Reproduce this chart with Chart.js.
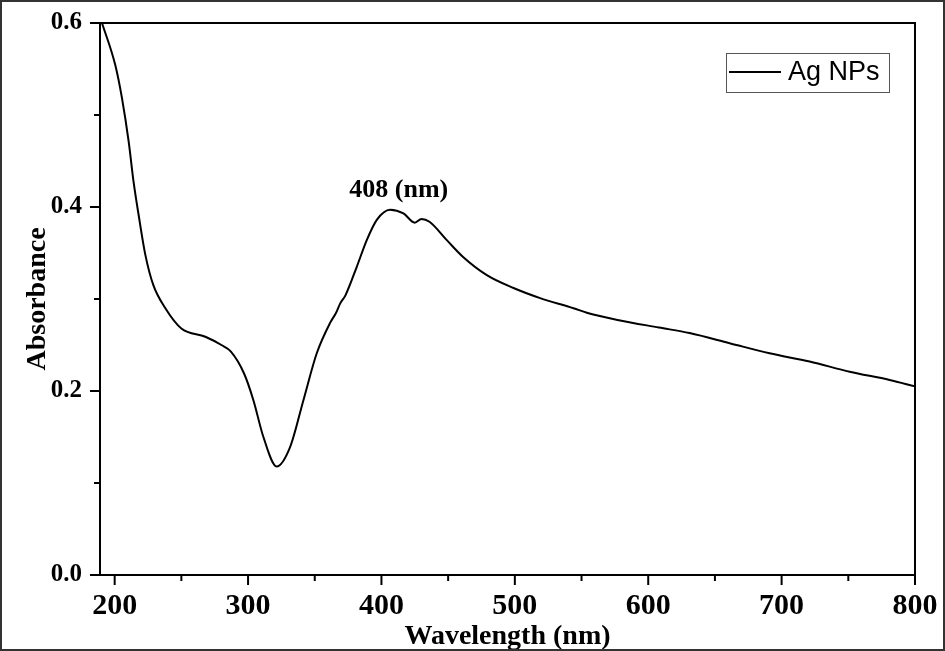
<!DOCTYPE html>
<html>
<head>
<meta charset="utf-8">
<script src="https://cdn.jsdelivr.net/npm/chart.js@4.4.1/dist/chart.umd.min.js"></script>
<style>
  html, body { margin: 0; padding: 0; background: #fff; }
  canvas { display: block; }
</style>
</head>
<body>
<canvas id="grafico" width="945" height="651"></canvas>
<script>
// UV-vis spectrum values
const wavelength = [190.5, 200.5, 205.5, 210.5, 214.2, 218, 223, 229, 238, 250, 268, 280,
  287, 297, 304, 311.5, 321.5, 331.5, 341.5, 351.5, 361.5, 366, 369, 373, 381.5, 389,
  396.5, 406.5, 416.5, 425, 430, 436, 449, 461, 479, 499, 519, 544, 554, 578, 608, 631,
  661, 691, 721, 751, 781, 800];
const absorbance = [0.600, 0.554, 0.518, 0.471, 0.427, 0.391, 0.348, 0.315, 0.290, 0.268, 0.259, 0.250,
  0.243, 0.219, 0.190, 0.150, 0.118, 0.139, 0.190, 0.241, 0.274, 0.285, 0.295, 0.304, 0.335, 0.364,
  0.386, 0.397, 0.393, 0.383, 0.387, 0.384, 0.364, 0.346, 0.326, 0.312, 0.301, 0.290, 0.285, 0.277, 0.269, 0.263,
  0.252, 0.241, 0.232, 0.221, 0.212, 0.205];

const xMajorTicks = [200, 300, 400, 500, 600, 700, 800];
const xMinorTicks = [250, 350, 450, 550, 650, 750];
const yMajorTicks = [0, 0.2, 0.4, 0.6];
const yMinorTicks = [0.1, 0.3, 0.5];

const serieNome = 'Ag NPs';
const picoTexto = '408 (nm)';

const serif = '"Liberation Serif", "Times New Roman", serif';
const sans = '"Liberation Sans", Arial, sans-serif';

// frame, outward ticks, legend box and peak label
const molduraPlugin = {
  id: 'moldura',
  beforeDraw(chart) {
    const ctx = chart.ctx;
    ctx.save();
    ctx.fillStyle = '#fff';
    ctx.fillRect(0, 0, chart.width, chart.height);
    ctx.restore();
  },
  afterDraw(chart) {
    const { ctx, chartArea: a, scales: { x, y } } = chart;
    ctx.save();
    ctx.strokeStyle = '#000';
    ctx.lineWidth = 2;
    ctx.strokeRect(a.left, a.top, a.right - a.left, a.bottom - a.top);

    ctx.beginPath();
    xMajorTicks.forEach(v => { const px = x.getPixelForValue(v); ctx.moveTo(px, a.bottom); ctx.lineTo(px, a.bottom + 10); });
    xMinorTicks.forEach(v => { const px = x.getPixelForValue(v); ctx.moveTo(px, a.bottom); ctx.lineTo(px, a.bottom + 6); });
    yMajorTicks.forEach(v => { const py = y.getPixelForValue(v); ctx.moveTo(a.left, py); ctx.lineTo(a.left - 10, py); });
    yMinorTicks.forEach(v => { const py = y.getPixelForValue(v); ctx.moveTo(a.left, py); ctx.lineTo(a.left - 6, py); });
    ctx.stroke();

    // legend
    const lx = a.right - 189, ly = a.top + 30;
    ctx.lineWidth = 1;
    ctx.strokeStyle = '#555';
    ctx.strokeRect(lx + 0.5, ly + 0.5, 163, 39);
    ctx.strokeStyle = '#000';
    ctx.lineWidth = 2;
    ctx.beginPath();
    ctx.moveTo(lx + 3, ly + 19);
    ctx.lineTo(lx + 55, ly + 19);
    ctx.stroke();
    ctx.fillStyle = '#000';
    ctx.font = '27px ' + sans;
    ctx.textBaseline = 'middle';
    ctx.textAlign = 'left';
    ctx.fillText(chart.data.datasets[0].label, lx + 62, ly + 20);

    // peak label
    ctx.font = 'bold 26px ' + serif;
    ctx.textAlign = 'center';
    ctx.fillText(picoTexto, x.getPixelForValue(413), y.getPixelForValue(0.418));

    // outer border of the figure
    ctx.strokeStyle = '#333';
    ctx.lineWidth = 2;
    ctx.strokeRect(1, 1, chart.width - 2, chart.height - 2);
    ctx.restore();
  }
};

new Chart(document.getElementById('grafico'), {
  type: 'line',
  data: {
    datasets: [{
      label: serieNome,
      data: wavelength.map((w, i) => ({ x: w, y: absorbance[i] })),
      borderColor: '#000',
      borderWidth: 2,
      pointRadius: 0,
      fill: false,
      cubicInterpolationMode: 'monotone'
    }]
  },
  options: {
    responsive: false,
    animation: false,
    layout: { padding: { top: 23, right: 30, left: 0, bottom: 0 } },
    plugins: {
      legend: { display: false },
      tooltip: { enabled: false }
    },
    scales: {
      x: {
        type: 'linear',
        min: 189,
        max: 800,
        grid: { display: false, drawTicks: false },
        border: { display: false },
        afterBuildTicks: s => { s.ticks = xMajorTicks.map(v => ({ value: v })); },
        afterFit: s => { s.height = 76; s.paddingLeft = 0; s.paddingRight = 0; },
        ticks: {
          color: '#000',
          padding: 13,
          maxRotation: 0,
          font: { family: serif, size: 30, weight: 'bold' },
          callback: v => String(v)
        },
        title: {
          display: true,
          text: 'Wavelength (nm)',
          color: '#000',
          padding: { top: 0, bottom: 0 },
          font: { family: serif, size: 28, weight: 'bold', lineHeight: 1 }
        }
      },
      y: {
        min: 0,
        max: 0.6,
        grid: { display: false, drawTicks: false },
        border: { display: false },
        afterBuildTicks: s => { s.ticks = yMajorTicks.map(v => ({ value: v })); },
        afterFit: s => { s.width = 100; s.paddingTop = 0; s.paddingBottom = 0; },
        ticks: {
          color: '#000',
          padding: 18,
          font: { family: serif, size: 25, weight: 'bold' },
          callback: v => v.toFixed(1)
        },
        title: {
          display: true,
          text: 'Absorbance',
          color: '#000',
          padding: { top: 24, bottom: 0 },
          font: { family: serif, size: 28, weight: 'bold', lineHeight: 1 }
        }
      }
    }
  },
  plugins: [molduraPlugin]
});
</script>
</body>
</html>
